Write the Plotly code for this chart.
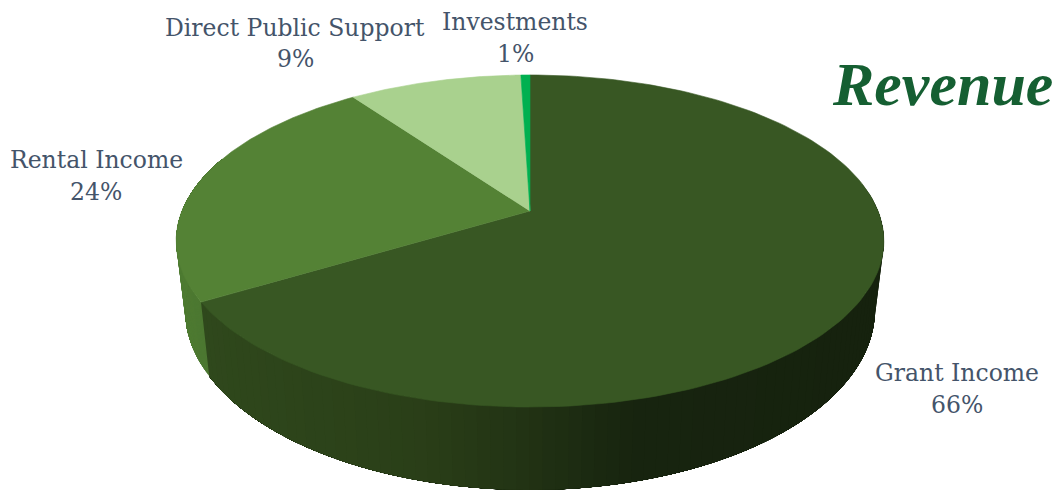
import numpy as np
import plotly.graph_objects as go

categories = ["Grant Income", "Rental Income", "Direct Public Support", "Investments"]
shares = [66.4, 23.7, 9.4, 0.5]
share_labels = ["66%", "24%", "9%", "1%"]
top_colors = ["#385723", "#548235", "#A9D18E", "#00B050"]
title_text = "Revenue"

CX, CY = 530.0, 211.0
A, B, K = 160.6, 348.0, 0.1807
TOP_MID, BOT_MID = 241.0, 310.0
SX, SY = 0.975, 1.084


def top_xy(theta):
    u, v = np.sin(theta), np.cos(theta)
    d = 1 + K * v
    return CX + B * u / d, CY - A * v / d


def bottom_xy(theta):
    x, y = top_xy(theta)
    return CX + SX * (x - CX), BOT_MID + SY * (y - TOP_MID)


def lerp_hex(stops, t):
    xs = [s[0] for s in stops]
    rgb = [np.interp(t, xs, [int(s[1][i:i + 2], 16) for s in stops]) for i in (1, 3, 5)]
    return "#%02x%02x%02x" % tuple(int(round(c)) for c in rgb)


side_stops = [(200, "#2f481c"), (420, "#2a3f18"), (530, "#223314"), (640, "#17240f"), (880, "#16220e")]
rental_stops = [(170, "#4f7c32"), (215, "#4a7530")]

fig = go.Figure()
edges = np.cumsum([0] + shares) / 100 * 2 * np.pi


def add_poly(xs, ys, color, width=0.0):
    fig.add_trace(go.Scatter(x=xs, y=ys, mode="lines", fill="toself", fillcolor=color,
                             line=dict(color=color, width=width), hoverinfo="skip", showlegend=False))


# Side walls: only the arc facing the viewer; each band reaches to the arc's end
# so that the next band paints over it and no seams appear.
for idx, stops in ((0, side_stops), (1, rental_stops)):
    a0 = max(edges[idx], np.radians(80))
    a1 = min(edges[idx + 1], np.radians(290))
    steps = np.linspace(a0, a1, 90)
    for t0 in steps[:-1]:
        ts = np.linspace(t0, a1, 80)
        xt, yt = top_xy(ts)
        xb, yb = bottom_xy(ts[::-1])
        add_poly(list(xt) + list(xb) + [xt[0]], list(yt) + list(yb) + [yt[0]],
                 lerp_hex(stops, float(xt[0])))

# Top faces
for i in range(len(shares)):
    ts = np.linspace(edges[i], edges[i + 1], 160)
    xt, yt = top_xy(ts)
    add_poly([CX] + list(xt) + [CX], [CY] + list(yt) + [CY], top_colors[i], 0.6)

label_pos = [(957, 373, 405), (96, 160, 192), (295, 28, 59), (515, 22, 54)]
for name, pct, (lx, y1, y2) in zip(categories, share_labels, label_pos):
    for txt, ly in ((name, y1), (pct, y2)):
        fig.add_annotation(x=lx, y=ly, text=txt, showarrow=False,
                           font=dict(family="DejaVu Serif", size=23.5, color="#44546A"))

fig.add_annotation(x=942, y=84, text=f"<b><i>{title_text}</i></b>", showarrow=False,
                   font=dict(family="Liberation Serif", size=62, color="#155F32"))

fig.update_layout(
    width=1054, height=496, margin=dict(l=0, r=0, t=0, b=0),
    paper_bgcolor="white", plot_bgcolor="white", showlegend=False,
    xaxis=dict(range=[0, 1054], visible=False, fixedrange=True),
    yaxis=dict(range=[496, 0], visible=False, fixedrange=True),
)
fig.write_html("out.html", config={"displayModeBar": False},
               post_script="document.body.style.margin='0';document.body.style.overflow='hidden';")
